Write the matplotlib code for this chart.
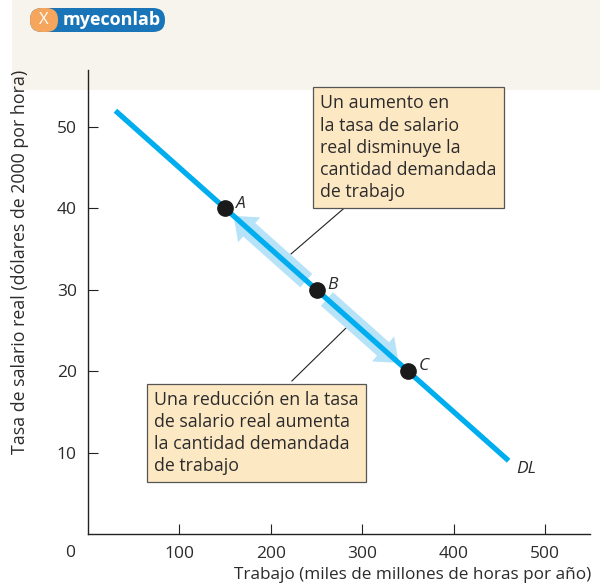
import matplotlib.pyplot as plt
from matplotlib.patches import FancyArrowPatch, FancyBboxPatch, Rectangle

plt.rcParams["font.family"] = ["Open Sans", "DejaVu Sans"]

# demand for labour curve DL
dl_x = [30, 460]
dl_y = [52, 9]

# points on the curve
pt_names = ["A", "B", "C"]
pt_x = [150, 250, 350]
pt_y = [40, 30, 20]

x_ticks = [100, 200, 300, 400, 500]
y_ticks = [10, 20, 30, 40, 50]

note_up = "Un aumento en\nla tasa de salario\nreal disminuye la\ncantidad demandada\nde trabajo"
note_down = "Una reducción en la tasa\nde salario real aumenta\nla cantidad demandada\nde trabajo"

txt = "#2b2b2b"
fig = plt.figure(figsize=(6, 5.85), dpi=100)

# cream header band and logo
fig.patches.append(Rectangle((12 / 600, 1 - 90 / 585), 1, 90 / 585, transform=fig.transFigure,
                             facecolor="#f6f4ec", edgecolor="none", zorder=-5))
fig.patches.append(FancyBboxPatch((30 / 600, 1 - 32 / 585), 135 / 600, 24 / 585,
                                  boxstyle="round,pad=0,rounding_size=0.02", transform=fig.transFigure,
                                  facecolor="#1a75b8", edgecolor="none", zorder=-4))
fig.patches.append(FancyBboxPatch((30 / 600, 1 - 32 / 585), 28 / 600, 24 / 585,
                                  boxstyle="round,pad=0,rounding_size=0.02", transform=fig.transFigure,
                                  facecolor="#f5a55c", edgecolor="none", zorder=-3))
fig.text(44 / 600, 1 - 20 / 585, "X", color="white", fontsize=12, ha="center", va="center")
fig.text(112 / 600, 1 - 20 / 585, "myeconlab", color="white", fontsize=13, fontweight="bold",
         ha="center", va="center")

ax = fig.add_axes([88 / 600, 51 / 585, 502 / 600, 464 / 585])
ax.set_zorder(1)
ax.patch.set_alpha(0)
ax.set_xlim(0, 549)
ax.set_ylim(0, 57)
for s in ["top", "right"]:
    ax.spines[s].set_visible(False)
for s in ["left", "bottom"]:
    ax.spines[s].set_color("#222222")
    ax.spines[s].set_linewidth(1.0)

ax.set_xticks(x_ticks)
ax.set_yticks(y_ticks)
ax.tick_params(axis="both", direction="in", length=7, width=0.8, colors="#222222",
               labelsize=12.5, labelcolor=txt)
ax.tick_params(axis="x", pad=9)
ax.tick_params(axis="y", pad=8)
ax.text(-20, -1.4, "0", fontsize=12.5, color=txt, ha="center", va="top")

# light blue movement arrows
arrow_style = "simple,head_length=1.5,head_width=2.4,tail_width=1.3"
ax.add_patch(FancyArrowPatch((241, 30.9), (157, 39.3), arrowstyle=arrow_style,
                             mutation_scale=10, color="#b7e3f8", lw=0, zorder=2))
ax.add_patch(FancyArrowPatch((259, 29.1), (342, 20.8), arrowstyle=arrow_style,
                             mutation_scale=10, color="#b7e3f8", lw=0, zorder=2))

ax.plot(dl_x, dl_y, color="#00aeef", lw=3.8, solid_capstyle="butt", zorder=3)
ax.plot(pt_x, pt_y, "o", color="#1a1a1a", markersize=11, zorder=4)
for n, x, y in zip(pt_names, pt_x, pt_y):
    ax.text(x + 12, y + 0.1, n, fontsize=12.5, style="italic", color=txt)
ax.text(dl_x[1] + 8, dl_y[1] - 1.5, "DL", fontsize=12.5, style="italic", color=txt)

# leader lines
ax.plot([285, 222], [40.5, 34.4], color="#222222", lw=0.8, zorder=1)
ax.plot([283, 223], [25.4, 18.8], color="#222222", lw=0.8, zorder=1)

box = dict(boxstyle="square,pad=0.4", facecolor="#fde8c4", edgecolor="#555555", lw=0.9)
ax.text(254, 54.0, note_up, fontsize=12.8, color=txt, va="top", ha="left", linespacing=1.3,
        bbox=box, zorder=5)
ax.text(72, 17.6, note_down, fontsize=12.8, color=txt, va="top", ha="left", linespacing=1.3,
        bbox=box, zorder=5)

fig.text(591 / 600, 1 - 575 / 585, "Trabajo (miles de millones de horas por año)", fontsize=12.3,
         color=txt, ha="right", va="center")
fig.text(20 / 600, 1 - 262 / 585, "Tasa de salario real (dólares de 2000 por hora)", fontsize=12.8,
         color=txt, ha="center", va="center", rotation=90)

fig.savefig("out.png", dpi=100)
